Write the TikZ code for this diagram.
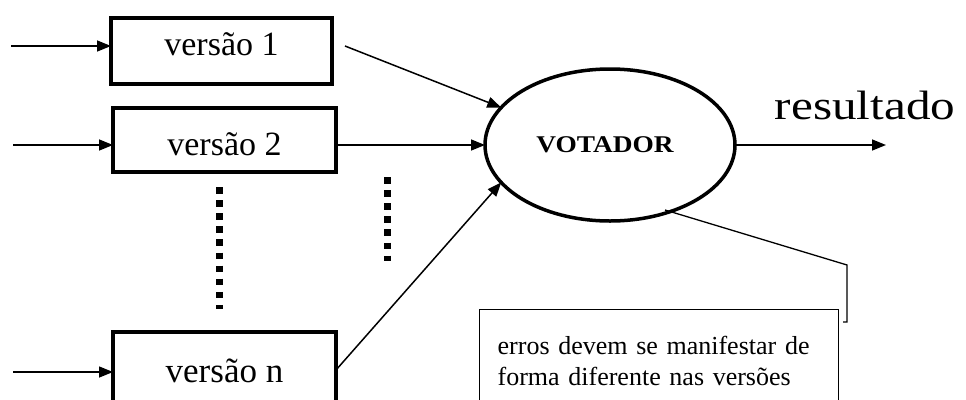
\documentclass[tikz,border=0pt]{standalone}
\usepackage{graphicx}
\usepackage{fontspec}
\setmainfont{Liberation Serif}
\usetikzlibrary{arrows.meta,shapes.geometric}
\begin{document}
\begin{tikzpicture}[x=1pt,y=-1pt,
  verbox/.style={draw,line width=4pt,inner sep=0pt,outer sep=0pt,
    font=\fontsize{34}{40}\selectfont},
  conn/.style={line width=1.5pt,-{Triangle[length=14pt,width=11pt]}},
  thinline/.style={line width=1.3pt},
  dotcol/.style={line width=7pt,dash pattern=on 6.5pt off 6.6pt},
]
\clip (0,0) rectangle (966,399);
\fill[white] (0,0) rectangle (966,399);

% version boxes
\node[verbox,minimum width=221pt,minimum height=66pt,text height=23pt,text depth=15pt] (b1) at (221.5,51) {versão 1};
\node[verbox,minimum width=223pt,minimum height=64pt,text height=33pt,text depth=3pt] (b2) at (224.5,140) {versão 2};
\node[verbox,minimum width=223pt,minimum height=82pt,text height=23pt,text depth=5pt,font=\fontsize{35}{40}\selectfont] (bn) at (224.5,373) {versão n};

% voter
\node[draw,ellipse,line width=3.5pt,minimum width=250pt,minimum height=152pt,inner sep=0pt,outer sep=0pt,
  font=\bfseries\fontsize{24}{28}\selectfont] (vot) at (610,145) {\scalebox{1.14}[1]{VOTADOR}\hspace*{10pt}};

% result label
\node[font=\fontsize{41}{46}\selectfont,inner sep=0pt] (res) at (865,105) {\scalebox{1.2}[1]{resultado}};

% note box
\node[draw,thinline,anchor=north west,text width=323pt,inner xsep=18pt,inner ysep=27pt,align=left,
  font=\fontsize{26}{31}\selectfont] (nota) at (479,309) {\mbox{erros devem se manifestar de}\\\mbox{forma diferente nas versões}};

% input arrows
\coordinate (i1) at (11,46);
\coordinate (i2) at (13,145);
\coordinate (i3) at (13,372);
\draw[conn] (i1) -- (i1 -| b1.west);
\draw[conn] (i2) -- (i2 -| b2.west);
\draw[conn] (i3) -- (i3 -| bn.west);

% arrows into voter
\coordinate (s1) at (345,46);
\draw[conn] (s1) -- (vot.161);
\draw[conn] (vot.west -| b2.east) -- (vot.west);
\draw[conn] ([yshift=3pt]bn.east) -- (vot.199);

% output
\coordinate (out) at (886,145);
\draw[conn] (vot.east) -- (out);

% dotted columns
\draw[dotcol] (219,187) -- (219,309);
\draw[dotcol] (387,177) -- (387,261);

% callout line
\coordinate (c0) at (665,210);
\coordinate (c1) at (847,265);
\coordinate (c2) at (847,322);
\coordinate (c3) at (843,322);
\draw[thinline] (c0) -- (c1) -- (c2) -- (c3);
\end{tikzpicture}
\end{document}
